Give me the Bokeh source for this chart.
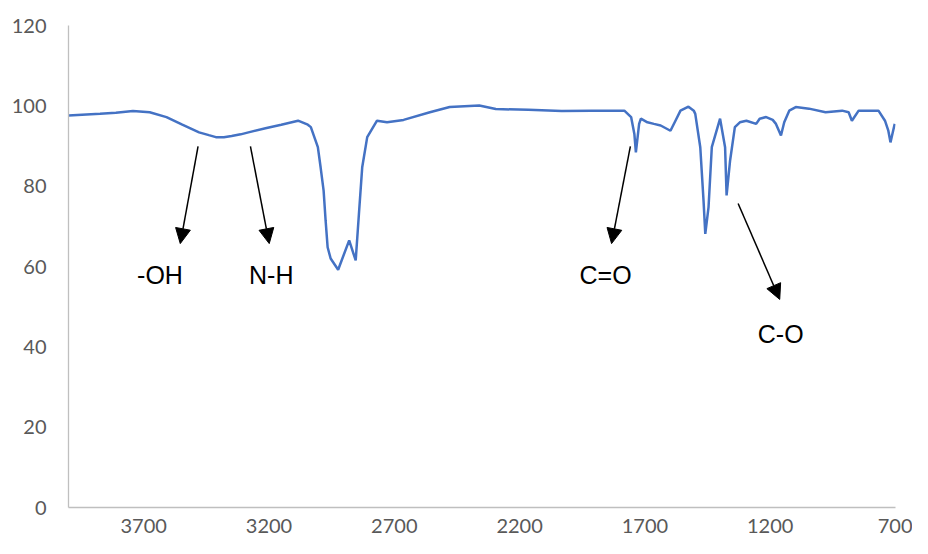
from bokeh.plotting import figure
from bokeh.models import Range1d, FixedTicker, Arrow, NormalHead, ColumnDataSource
from bokeh.core.properties import value
from bokeh.embed import file_html
from bokeh.resources import INLINE

# Spectrum (wavenumber, transmittance)
wavenumber = [4000, 3874, 3811, 3743, 3676, 3609, 3546, 3479, 3440, 3412, 3380, 3349,
              3313, 3282, 3214, 3151, 3084, 3045, 3033, 3005, 2994, 2982, 2974, 2966,
              2954, 2924, 2880, 2854, 2841, 2828, 2808, 2769, 2729, 2663, 2558, 2479,
              2361, 2295, 2165, 2032, 1913, 1782, 1755, 1742, 1736, 1723, 1716, 1690,
              1664, 1637, 1598, 1578, 1558, 1526, 1505, 1499, 1479, 1466, 1459, 1446,
              1433, 1400, 1380, 1374, 1360, 1341, 1321, 1295, 1256, 1242, 1216, 1190,
              1177, 1157, 1144, 1124, 1098, 1045, 979, 913, 887, 874, 847, 768,
              742, 729, 720, 709, 703]
transmittance = [97.6, 98.0, 98.3, 98.7, 98.4, 97.2, 95.3, 93.4, 92.7, 92.2, 92.2, 92.5,
                 92.9, 93.4, 94.4, 95.3, 96.3, 95.3, 94.7, 89.7, 84.7, 78.9, 71.4, 64.8,
                 62.0, 59.2, 66.5, 61.5, 73.2, 84.7, 92.2, 96.3, 95.9, 96.5, 98.4, 99.7,
                 100.1, 99.2, 99.0, 98.7, 98.8, 98.8, 97.2, 93.0, 88.4, 95.5, 96.8, 95.9,
                 95.5, 95.1, 93.8, 96.3, 98.8, 99.8, 98.8, 98.0, 89.7, 76.4, 68.1, 74.8,
                 89.7, 96.8, 89.7, 77.7, 86.4, 94.7, 95.9, 96.3, 95.5, 96.8, 97.2, 96.5,
                 95.5, 92.6, 95.9, 98.8, 99.7, 99.3, 98.4, 98.8, 98.4, 96.3, 98.8, 98.8,
                 96.3, 93.9, 90.9, 93.9, 95.5]

x_ticks = [3700, 3200, 2700, 2200, 1700, 1200, 700]
y_ticks = [0, 20, 40, 60, 80, 100, 120]

# Annotations: label text, label position, arrow start and arrow end
ann_text = ["-OH", "N-H", "C=O", "C-O"]
ann_x = [3635, 3191, 1857, 1158]
ann_y = [57.8, 57.8, 57.8, 43.3]
arr_x0 = [3483, 3274, 1758, 1328]
arr_y0 = [89.9, 89.9, 89.9, 75.7]
arr_x1 = [3554, 3199, 1833, 1162]
arr_y1 = [65.7, 65.7, 65.7, 51.8]

p = figure(width=912, height=538, output_backend="svg", toolbar_location=None,
           x_range=Range1d(4000, 700), y_range=Range1d(0, 120),
           min_border_left=68, min_border_top=25, min_border_bottom=31,
           min_border_right=17)
p.outline_line_color = None
p.xgrid.visible = False
p.ygrid.visible = False
p.background_fill_color = "white"

for ax in (p.xaxis[0], p.yaxis[0]):
    ax.axis_line_color = "#BFBFBF"
    ax.axis_line_width = 1.3
    ax.major_tick_line_color = None
    ax.minor_tick_line_color = None
    ax.major_tick_out = 0
    ax.major_tick_in = 0
    ax.major_label_text_color = "#595959"
    ax.major_label_text_font = "Lato"
    ax.major_label_text_font_size = "20px"

p.xaxis[0].ticker = FixedTicker(ticks=x_ticks)
p.yaxis[0].ticker = FixedTicker(ticks=y_ticks)
p.xaxis[0].major_label_standoff = 11
p.yaxis[0].major_label_standoff = 22

p.line(wavenumber, transmittance, line_color="#4472C4", line_width=2.5)

for i in range(len(ann_text)):
    p.add_layout(Arrow(end=NormalHead(size=15, fill_color="black", line_color="black"),
                       x_start=arr_x0[i], y_start=arr_y0[i],
                       x_end=arr_x1[i], y_end=arr_y1[i],
                       line_color="black", line_width=1.5))

src = ColumnDataSource(dict(x=ann_x, y=ann_y, t=ann_text))
p.text(x="x", y="y", text="t", source=src, text_font=value("Liberation Sans"),
       text_font_size="25px", text_color="black", text_align="center",
       text_baseline="middle")

open("out.html", "w").write(file_html(p, INLINE))
